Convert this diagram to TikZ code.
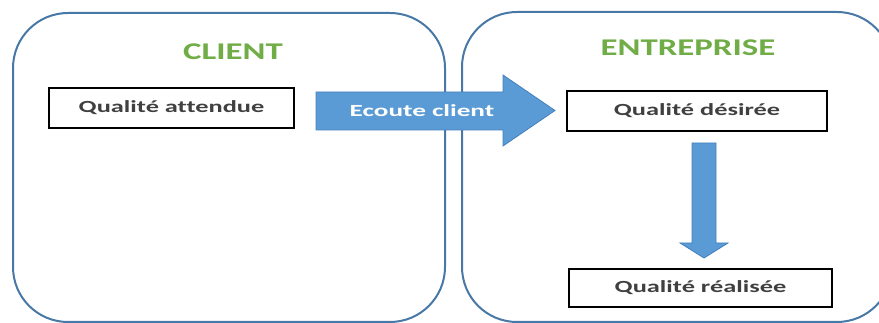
\documentclass[tikz,border=0pt]{standalone}
\usepackage{fontspec}
\setmainfont{Carlito}
\newfontfamily\titlefont[FakeStretch=1.45]{Carlito}
\newfontfamily\widefont[FakeStretch=1.55,Ligatures=NoCommon]{Carlito}
\newfontfamily\arrowfont[FakeStretch=1.6]{Carlito}
\usetikzlibrary{positioning}
\definecolor{panelblue}{RGB}{72,120,166}
\definecolor{arrowblue}{RGB}{91,155,213}
\definecolor{arrowedge}{RGB}{70,128,188}
\definecolor{titlegreen}{RGB}{112,173,71}
\definecolor{boxtext}{RGB}{64,64,64}

\begin{document}
\begin{tikzpicture}[x=1pt,y=-1pt,
    panel/.style={draw=panelblue, line width=2pt, rounded corners=55pt},
    title/.style={font=\titlefont\fontsize{24}{27}\selectfont\bfseries, text=titlegreen},
    quality/.style={draw=black, line width=2pt, inner sep=0pt, minimum height=40pt,
      font=\widefont\fontsize{17}{20}\selectfont\bfseries, text=boxtext},
    blockarrow/.style={fill=arrowblue, draw=arrowedge, line width=0.8pt}]
  \clip (0,0) rectangle (879,323);
  % the two panels
  \draw[panel] (13,13) rectangle (445,322);
  \draw[panel] (462,12) rectangle (892,322);
  \node[title] (client) at (233,52) {CLIENT};
  \node[title] (firm) at (688,48) {ENTREPRISE};
  % quality boxes
  \node[quality, minimum width=245pt] (expected) at (171.5,108) {Qualité attendue};
  \node[quality, minimum width=260pt] (wanted) at (697,111) {Qualité désirée};
  \node[quality, minimum width=263pt, minimum height=38pt] (done) at (700.5,288) {Qualité réalisée};
  % block arrows
  \coordinate (e1) at (316,92);
  \coordinate (e2) at (503,92);
  \coordinate (e3) at (503,75);
  \coordinate (e4) at (555,110.5);
  \coordinate (e5) at (503,146);
  \coordinate (e6) at (503,130);
  \coordinate (e7) at (316,130);
  \draw[blockarrow] (e1) -- (e2) -- (e3) -- (e4) -- (e5) -- (e6) -- (e7) -- cycle;
  \node[font=\arrowfont\fontsize{17}{20}\selectfont\bfseries, text=white] (listen) at (422,111) {Ecoute client};
  \coordinate (d1) at (692,143);
  \coordinate (d2) at (716,143);
  \coordinate (d3) at (716,243);
  \coordinate (d4) at (728,243);
  \coordinate (d5) at (704,258);
  \coordinate (d6) at (680,243);
  \coordinate (d7) at (692,243);
  \draw[blockarrow] (d1) -- (d2) -- (d3) -- (d4) -- (d5) -- (d6) -- (d7) -- cycle;
\end{tikzpicture}
\end{document}
